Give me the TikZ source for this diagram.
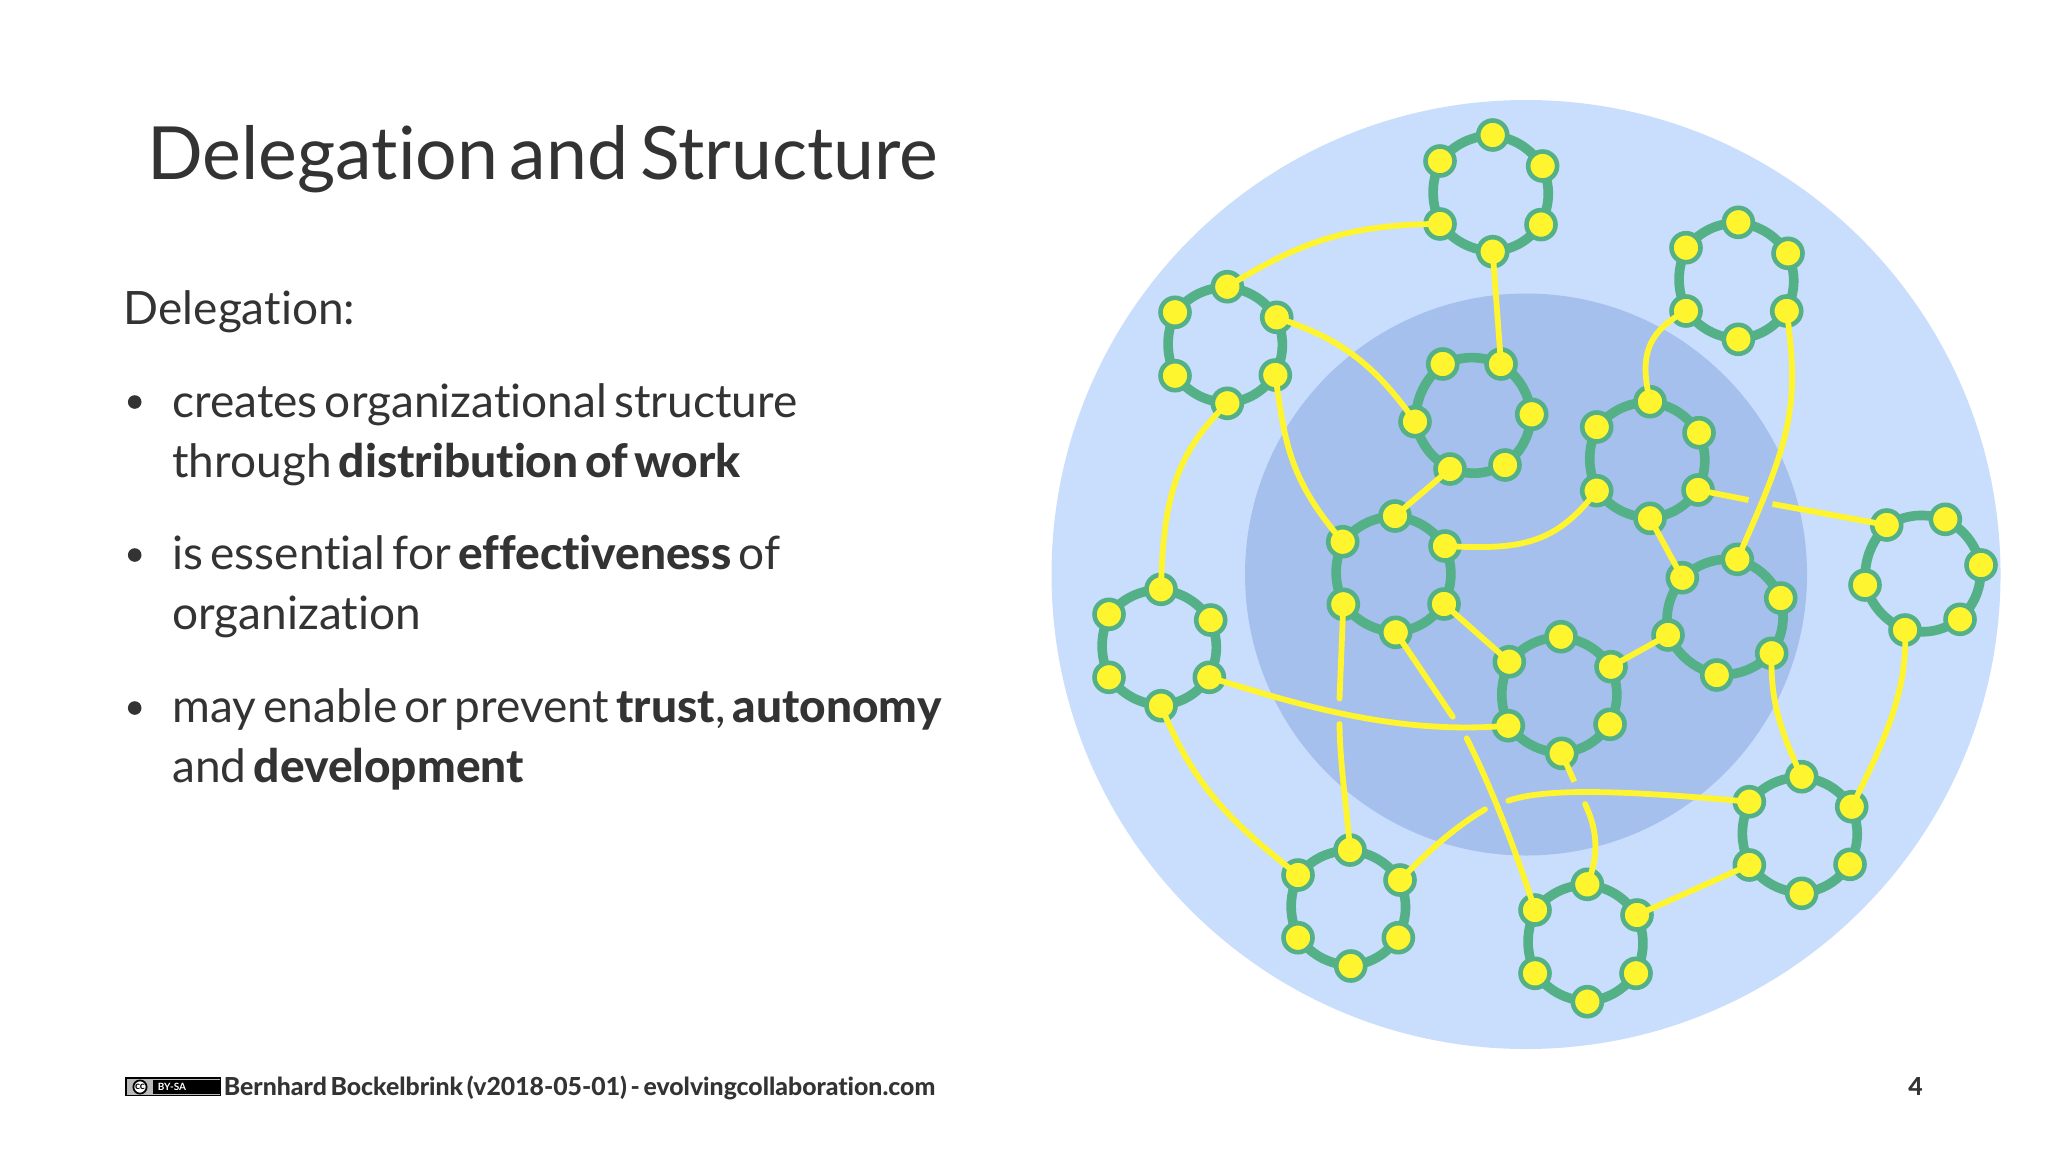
\documentclass[tikz,border=0pt]{standalone}
\usepackage{fontspec}
\setmainfont{Lato}[Ligatures=NoCommon,BoldFont={Lato Heavy},WordSpace=0.62]
\newfontfamily\badgefont{Lato Bold}[Ligatures=NoCommon]
\usetikzlibrary{calc}
\pgfdeclarelayer{back}
\pgfsetlayers{back,main}
\definecolor{outerblue}{HTML}{C9DDFD}
\definecolor{innerblue}{HTML}{A6C0EE}
\definecolor{ringgreen}{HTML}{54B087}
\definecolor{dotyellow}{HTML}{FFF52E}
\definecolor{ink}{HTML}{333333}
\tikzset{
  dot/.style={circle,draw=ringgreen,fill=dotyellow,line width=2.3pt,minimum size=14.5pt,inner sep=0pt,outer sep=0pt},
  ringedge/.style={draw=ringgreen,line width=4.8pt},
  link/.style={draw=dotyellow,line width=2.9pt},
  txt/.style={anchor=base west,inner sep=0pt,text=ink},
  bul/.style={circle,fill=ink,minimum size=6.8pt,inner sep=0pt},
  bodytext/.style={txt,font=\fontsize{23}{27}\selectfont},
  foottext/.style={txt,font=\bfseries\fontsize{12.4}{15}\selectfont}
}
\begin{document}
\begin{tikzpicture}[x=0.5pt,y=-0.5pt]
\useasboundingbox (0,0) rectangle (2048,1152);
\coordinate (disc) at (1526,574.5);
\begin{pgfonlayer}{back}
\fill[white] (0,0) rectangle (2048,1152);
\fill[outerblue] (disc) circle[radius=237.25pt];
\fill[innerblue] (disc) circle[radius=140.5pt];
\end{pgfonlayer}
\foreach \n/\x/\y in {
 a1/1492.7/135,a2/1542.6/166,a3/1541/224.6,a4/1492.7/251.7,a5/1440/224,a6/1440/161,
 b1/1227.3/286.7,b2/1276.7/317.3,b3/1275.3/375,b4/1227.3/403.3,b5/1175/375.7,b6/1175/312.3,
 c1/1442.7/364,c2/1501/364,c3/1531.7/414.3,c4/1505/465,c5/1450/469,c6/1415/421.7,
 d1/1395/516,d2/1445/546,d3/1444/604,d4/1395.7/632.3,d5/1343.3/604.3,d6/1342.7/541.7,
 e1/1738.3/222.3,e2/1788/253.3,e3/1786.7/311,e4/1738.3/339.3,e5/1686/311,e6/1686/247.7,
 f1/1650/401.7,f2/1699/432.7,f3/1698/490,f4/1650/518.3,f5/1596.7/490.7,f6/1596.7/427,
 g1/1886.7/525,g2/1945.3/519.3,g3/1981/565,g4/1960/619.3,g5/1905/630,g6/1865/585,
 h1/1737.3/559.3,h2/1780.7/598,h3/1771.7/653.3,h4/1716.7/675,h5/1668/635,h6/1682.3/577.7,
 i1/1561/636.7,i2/1611/666.7,i3/1610/724.3,i4/1561.7/753.3,i5/1508.3/725.7,i6/1509.3/661.7,
 j1/1161/589.3,j2/1210.7/620,j3/1209.3/677.3,j4/1161/705.7,j5/1109/677.3,j6/1109/614.3,
 k1/1350/850,k2/1400/880,k3/1398.3/937.7,k4/1350.7/966,k5/1298/937.7,k6/1298/875,
 l1/1587.3/884.3,l2/1637/915,l3/1636/973.3,l4/1587.3/1001.7,l5/1535/973.3,l6/1535/910,
 m1/1801.7/776.7,m2/1851.7/806.7,m3/1850/864.3,m4/1801.7/893.3,m5/1749.3/865,m6/1749.3/801.7}
  {\node[dot] (\n) at (\x,\y) {};}
\begin{pgfonlayer}{back}
\foreach \r in {a,b,c,d,e,f,g,h,i,j,k,l,m}
  \foreach \s/\t in {1/2,2/3,3/4,4/5,5/6,6/1}
    \draw[ringedge] (\r\s.center) to[bend left=22] (\r\t.center);
\end{pgfonlayer}
% connectors
\draw[link] (b1.center) .. controls (1295,245) and (1345,224) .. (a5.center);
\draw[link] (a4.center) -- (c2.center);
\draw[link] (b2.center) .. controls (1325,335) and (1365,350) .. (c6.center);
\draw[link] (b3.center) .. controls (1285,445) and (1290,480) .. (d6.center);
\draw[link] (b4.center) .. controls (1180,450) and (1163,490) .. (j1.center);
\draw[link] (c5.center) -- (d1.center);
\draw[link] (d2.center) .. controls (1520,550) and (1555,545) .. (f5.center);
\draw[link] (e5.center) .. controls (1640,335) and (1642,365) .. (f1.center);
\draw[link] (e3.center) .. controls (1800,410) and (1790,440) .. (h1.center);
\coordinate (g1a) at (1748.5,500);
\coordinate (g1b) at (1772.5,504);
\draw[link] (f3.center) -- (g1a);
\draw[link] (g1b) -- (g1.center);
\draw[link] (f4.center) -- (h6.center);
\draw[link] (h5.center) -- (i2.center);
\draw[link] (d3.center) -- (i6.center);
\coordinate (k1a) at (1339.5,698.5);
\coordinate (k1b) at (1339.5,724);
\draw[link,line cap=round] (d5.center) -- (k1a);
\draw[link,line cap=round] (k1b) .. controls (1340,765) and (1346,800) .. (k1.center);
\coordinate (l6a) at (1452.7,716.7);
\coordinate (l6b) at (1466.7,738.3);
\draw[link,line cap=round] (d4.center) -- (l6a);
\draw[link,line cap=round] (l6b) .. controls (1490,785) and (1512,840) .. (l6.center);
\draw[link] (j3.center) .. controls (1300,705) and (1395,735) .. (i5.center);
\draw[link] (j4.center) .. controls (1195,790) and (1235,825) .. (k6.center);
\coordinate (m6a) at (1485,809.3);
\coordinate (m6b) at (1508.3,800.7);
\draw[link,line cap=round] (k2.center) .. controls (1425,855) and (1450,830) .. (m6a);
\draw[link,line cap=round] (m6b) .. controls (1545,788) and (1620,790) .. (m6.center);
\coordinate (l1a) at (1574.3,781.7);
\coordinate (l1b) at (1585,804);
\draw[link] (i4.center) -- (l1a);
\draw[link,line cap=round] (l1b) .. controls (1600,835) and (1597,860) .. (l1.center);
\draw[link] (l2.center) -- (m5.center);
\draw[link] (h3.center) .. controls (1770,700) and (1780,730) .. (m1.center);
\draw[link] (g5.center) .. controls (1908,690) and (1885,740) .. (m2.center);
% text
\node[txt,font=\fontsize{36.7}{42}\selectfont] (title) at (147,179) {Delegation and Structure};
\node[bodytext] (t0) at (123.5,324) {Delegation:};
\node[bodytext] (t1) at (172,417) {creates organizational structure};
\node[bodytext] (t2) at (172,477) {through \textbf{distribution of work}};
\node[bodytext] (t3) at (172,569) {is essential for \textbf{effectiveness} of};
\node[bodytext] (t4) at (172,629) {organization};
\node[bodytext] (t5) at (172,722) {may enable or prevent \textbf{trust}, \textbf{autonomy}};
\node[bodytext] (t6) at (172,782) {and \textbf{development}};
\node[bul] (b-1) at (134.7,402) {};
\node[bul] (b-2) at (134.7,555) {};
\node[bul] (b-3) at (134.7,708) {};
% footer
\node[foottext] (foot) at (223.5,1095) {Bernhard Bockelbrink (v2018-05-01) - evolvingcollaboration.com};
\node[foottext] (page) at (1908,1095) {4};
% licence badge
\draw[black,fill=gray!55,line width=0.6pt] (126,1078) rectangle (220.5,1095.5);
\fill[black] (153,1080) rectangle (219.5,1094);
\node[circle,draw=black,fill=white,line width=0.9pt,minimum size=6.6pt,inner sep=0pt,text=black,font=\badgefont\fontsize{5.2}{5}\selectfont] (cc) at (140,1087) {cc};
\node[anchor=center,inner sep=0pt,text=white,font=\badgefont\fontsize{5}{5}\selectfont] (by) at (172,1087) {BY-SA};
\end{tikzpicture}
\end{document}
